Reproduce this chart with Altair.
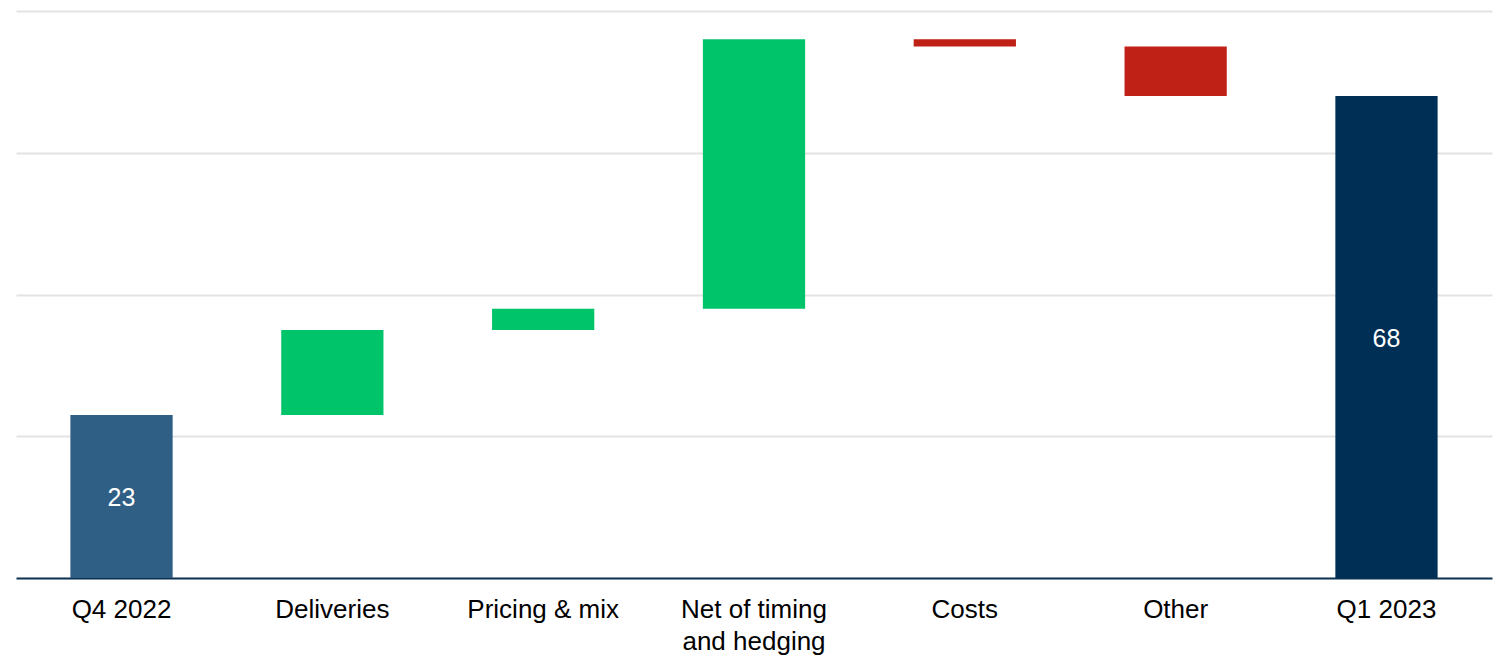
import altair as alt
import pandas as pd

# Operating profit bridge, Q4 2022 -> Q1 2023
categories = ["Q4 2022", "Deliveries", "Pricing & mix", "Net of timing|and hedging",
              "Costs", "Other", "Q1 2023"]
changes = [23, 12, 3, 38, -1, -7, None]
kinds = ["start", "step", "step", "step", "step", "step", "end"]

rows = []
running = 0.0
for cat, delta, kind in zip(categories, changes, kinds):
    if kind == "start":
        lo, hi = 0.0, float(delta)
        running = float(delta)
        label = f"{delta:g}"
    elif kind == "end":
        lo, hi = 0.0, running
        label = f"{running:g}"
    else:
        lo = running
        running += delta
        hi = running
        label = ""
    color_key = kind if kind != "step" else ("up" if delta >= 0 else "down")
    rows.append({"cat": cat, "lo": lo, "hi": hi, "mid": (lo + hi) / 2,
                 "label": label, "kind": color_key})

df = pd.DataFrame(rows)

color_scale = alt.Scale(domain=["start", "up", "down", "end"],
                        range=["#2f5f85", "#00c46a", "#c02117", "#002f56"])

x_enc = alt.X("cat:N", sort=categories, title=None,
              scale=alt.Scale(paddingInner=0.515, paddingOuter=0.258),
              axis=alt.Axis(labelAngle=0, ticks=False, domain=True,
                            domainColor="#0b3050", domainWidth=2,
                            labelFont="Liberation Sans", labelFontSize=26,
                            labelColor="#000000", labelPadding=18,
                            labelLineHeight=32, labelLimit=400,
                            labelExpr="split(datum.label, '|')", grid=False))

bars = alt.Chart(df).mark_bar(cornerRadius=0).encode(
    x=x_enc,
    y=alt.Y("lo:Q", title=None,
            scale=alt.Scale(domain=[0, 80], nice=False),
            axis=alt.Axis(values=[20, 40, 60, 80], labels=False, ticks=False,
                          domain=False, grid=True, gridColor="#e3e3e3",
                          gridWidth=2)),
    y2="hi:Q",
    color=alt.Color("kind:N", scale=color_scale, legend=None),
)

labels = alt.Chart(df).mark_text(
    color="white", font="Liberation Sans", fontSize=25, baseline="middle",
    align="center", dy=2
).encode(
    x=alt.X("cat:N", sort=categories),
    y=alt.Y("mid:Q"),
    text="label:N",
)

chart = (bars + labels).properties(
    width=1476, height=567,
    autosize=alt.AutoSizeParams(type="none"),
    padding={"left": 16, "top": 11, "right": 6, "bottom": 80},
    background="white",
).configure_view(stroke=None)

chart.save("out.html", embed_options={"renderer": "svg", "actions": False})
